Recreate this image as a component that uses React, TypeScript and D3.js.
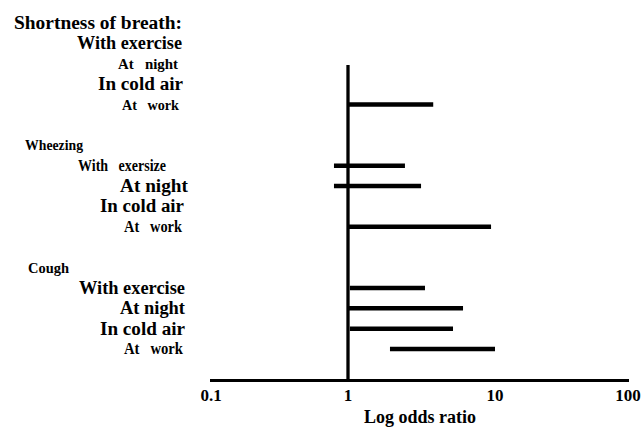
import * as d3 from 'd3';

// ── Data ────────────────────────────────────────────────────────────────
const GROUPS = ['Shortness of breath:', 'Wheezing', 'Cough'];
const ITEM_LABELS = [
  ['With exercise', 'At\u00a0\u00a0 night', 'In cold air', 'At\u00a0\u00a0 work'],
  ['With\u00a0\u00a0 exersize', 'At night', 'In cold air', 'At\u00a0\u00a0 work'],
  ['With exercise', 'At night', 'In cold air', 'At\u00a0\u00a0 work'],
];
// Confidence interval of the odds ratio, null where no bar is drawn.
const CI_LOW: (number | null)[][] = [
  [null, null, null, 1.0],
  [0.79, 0.79, null, 1.0],
  [1.03, 1.0, 1.03, 1.93],
];
const CI_HIGH: (number | null)[][] = [
  [null, null, null, 3.8],
  [2.44, 3.14, null, 9.4],
  [3.34, 6.06, 5.18, 10.0],
];
const X_TICKS = [0.1, 1, 10, 100];
const X_TICK_LABELS = ['0.1', '1', '10', '100'];
const X_TITLE = 'Log odds ratio';

// ── Layout ──────────────────────────────────────────────────────────────
const W = 641;
const H = 427;
const FONT = "'Liberation Serif', 'Times New Roman', serif";
const AXIS_Y = 380.5;
const REF_TOP = 65;

// The figure is hand-set: each label has its own size and ragged edge.
const GROUP_STYLE = [
  { left: 14, width: 168, size: 18 },
  { left: 25, width: 58, size: 15 },
  { left: 28, width: 41, size: 15 },
];
const ITEM_STYLE = [
  [
    { right: 182, width: 105, size: 18 },
    { right: 178, width: 60, size: 15 },
    { right: 183, width: 85, size: 18 },
    { right: 179, width: 57, size: 15 },
  ],
  [
    { right: 166, width: 88, size: 16 },
    { right: 188, width: 68, size: 18 },
    { right: 184, width: 84, size: 18 },
    { right: 182, width: 58, size: 16 },
  ],
  [
    { right: 185, width: 106, size: 18 },
    { right: 185, width: 65, size: 18 },
    { right: 185, width: 85, size: 18 },
    { right: 183, width: 59, size: 16 },
  ],
];

const textStyle = { fontFamily: FONT, fontWeight: 700 } as const;

export default function App() {
  // Piecewise log scale: the printed decades are not quite evenly spaced.
  const x = d3.scaleLog().domain(X_TICKS).range([211, 348, 495, 628]);
  // Row slots: header, four items, one blank slot, next header...
  const y = d3.scaleLinear().domain([0, 16]).range([23, 349]);
  const slot = (g: number, i: number) => g * 6 + i + 1;

  return (
    <svg
      width={W}
      height={H}
      style={{ position: 'absolute', left: 0, top: 0, background: '#fff' }}
    >
      {/* Group headers */}
      {GROUPS.map((name, g) => {
        const s = GROUP_STYLE[g];
        return (
          <text
            key={name}
            x={s.left}
            y={Math.round(y(g * 6) + s.size * 0.34)}
            fontSize={s.size}
            textLength={s.width}
            lengthAdjust="spacingAndGlyphs"
            style={textStyle}
          >
            {name}
          </text>
        );
      })}

      {/* Item labels */}
      {ITEM_LABELS.map((items, g) =>
        items.map((label, i) => {
          const s = ITEM_STYLE[g][i];
          return (
            <text
              key={`${g}-${i}`}
              x={s.right - s.width}
              y={Math.round(y(slot(g, i)) + s.size * 0.34)}
              fontSize={s.size}
              textLength={s.width}
              lengthAdjust="spacingAndGlyphs"
              style={textStyle}
            >
              {label}
            </text>
          );
        }),
      )}

      {/* Reference line at OR = 1 */}
      <line
        x1={x(1)}
        x2={x(1)}
        y1={REF_TOP}
        y2={AXIS_Y}
        stroke="#000"
        strokeWidth={3.3}
      />

      {/* Interval bars */}
      {CI_LOW.map((row, g) =>
        row.map((lo, i) => {
          const hi = CI_HIGH[g][i];
          if (lo == null || hi == null) return null;
          return (
            <line
              key={`bar-${g}-${i}`}
              x1={x(lo)}
              x2={x(hi)}
              y1={y(slot(g, i))}
              y2={y(slot(g, i))}
              stroke="#000"
              strokeWidth={4.5}
            />
          );
        }),
      )}

      {/* X axis */}
      <line
        x1={x(X_TICKS[0]) - 1}
        x2={x(X_TICKS[X_TICKS.length - 1]) + 1}
        y1={AXIS_Y}
        y2={AXIS_Y}
        stroke="#000"
        strokeWidth={3}
      />
      {X_TICKS.map((t, k) => (
        <text key={t} x={x(t)} y={401} fontSize={17} textAnchor="middle" style={textStyle}>
          {X_TICK_LABELS[k]}
        </text>
      ))}
      <text x={420} y={423} fontSize={18} textAnchor="middle" style={textStyle}>
        {X_TITLE}
      </text>
    </svg>
  );
}
